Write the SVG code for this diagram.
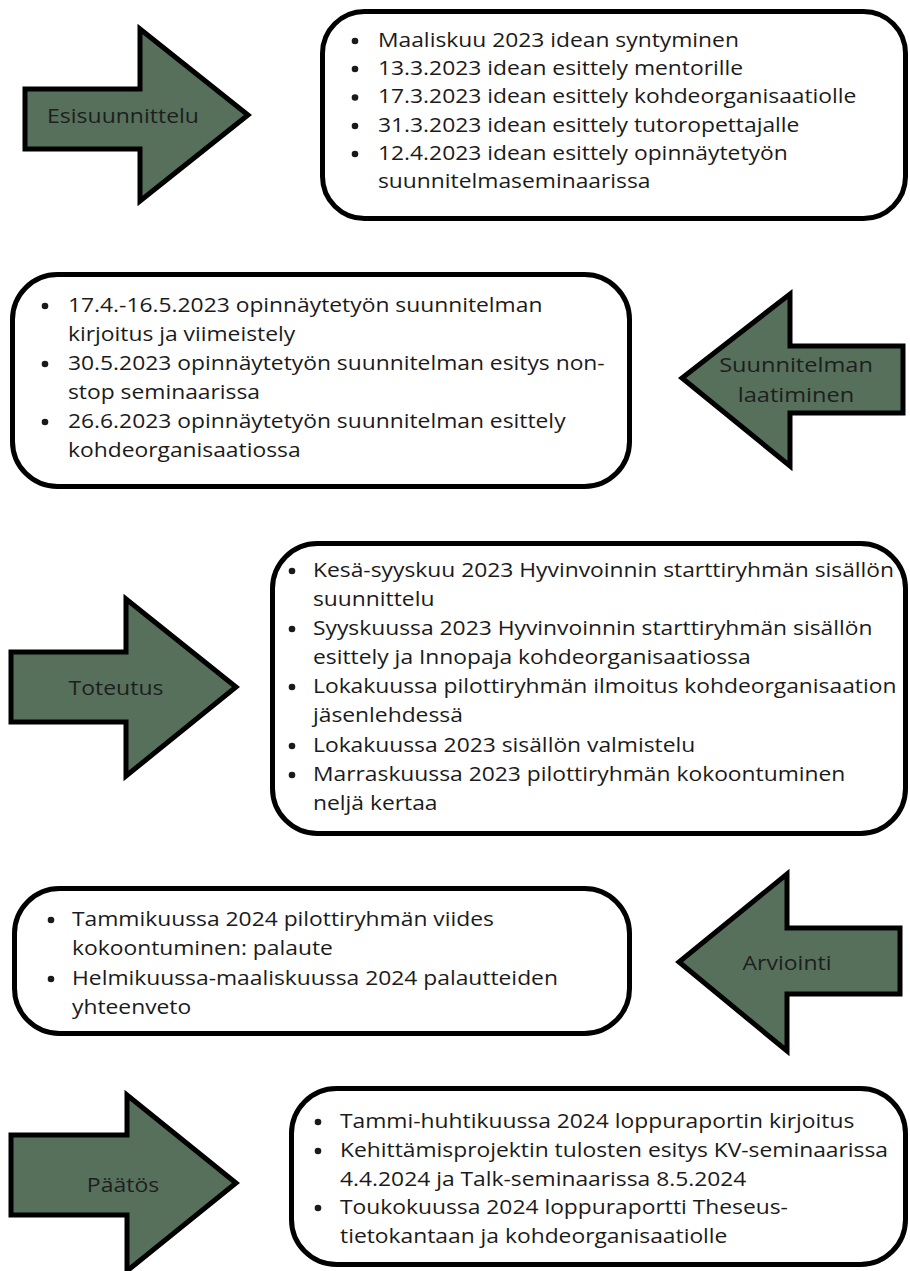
<svg xmlns="http://www.w3.org/2000/svg" width="910" height="1271" viewBox="0 0 910 1271">
<style>
.arrow{fill:#56705b;stroke:#000;stroke-width:5;stroke-linejoin:miter;stroke-miterlimit:10}
.box{fill:#fff;stroke:#000;stroke-width:5}
.dot{fill:#1a1a1a}
.lbl{font-family:"Open Sans","Noto Sans",sans-serif;font-size:20px;fill:#1e1e1e;text-anchor:middle}
.t{font-family:"Open Sans","Noto Sans",sans-serif;font-size:19.5px;fill:#1a1a1a}
</style>
<rect width="910" height="1271" fill="#fff"/>
<g id="arrows">
<g id="arrow-esisuunnittelu">
<polygon class="arrow" points="25,89 140,89 140,29 248,115 140,201 140,149 25,149"/>
<g transform="translate(123 0) scale(1.15 1)"><text class="lbl" x="0" y="123">Esisuunnittelu</text></g>
</g>
<g id="arrow-suunnitelman">
<polygon class="arrow" points="903,346 790,346 790,294 682,378 790,466 790,413 903,413"/>
<g transform="translate(796 0) scale(1.18 1)"><text class="lbl" x="0" y="372">Suunnitelman</text>
<text class="lbl" x="0" y="402">laatiminen</text></g>
</g>
<g id="arrow-toteutus">
<polygon class="arrow" points="11,652 126,652 126,599 236,687 126,776 126,722 11,722"/>
<g transform="translate(116 0) scale(1.15 1)"><text class="lbl" x="0" y="695">Toteutus</text></g>
</g>
<g id="arrow-arviointi">
<polygon class="arrow" points="900,928 787,928 787,874 679,962 787,1051 787,994 900,994"/>
<g transform="translate(787 0) scale(1.15 1)"><text class="lbl" x="0" y="970">Arviointi</text></g>
</g>
<g id="arrow-paatos">
<polygon class="arrow" points="11,1135 127,1135 127,1095 236,1183 127,1271 127,1215 11,1215"/>
<g transform="translate(123 0) scale(1.15 1)"><text class="lbl" x="0" y="1192">Päätös</text></g>
</g>
</g>
<g id="box1">
<rect class="box" x="322.5" y="11.5" width="583" height="207" rx="42"/>
<circle class="dot" cx="355" cy="41" r="3.3"/>
<circle class="dot" cx="355" cy="69" r="3.3"/>
<circle class="dot" cx="355" cy="97.5" r="3.3"/>
<circle class="dot" cx="355" cy="126" r="3.3"/>
<circle class="dot" cx="355" cy="154" r="3.3"/>
<g transform="translate(378 0) scale(1.17 1)">
<text class="t" x="0" y="47">Maaliskuu 2023 idean syntyminen</text>
<text class="t" x="0" y="75">13.3.2023 idean esittely mentorille</text>
<text class="t" x="0" y="103.5">17.3.2023 idean esittely kohdeorganisaatiolle</text>
<text class="t" x="0" y="132">31.3.2023 idean esittely tutoropettajalle</text>
<text class="t" x="0" y="160">12.4.2023 idean esittely opinnäytetyön</text>
<text class="t" x="0" y="188">suunnitelmaseminaarissa</text>
</g>
</g>
<g id="box2">
<rect class="box" x="12.5" y="274.5" width="617" height="212" rx="45"/>
<circle class="dot" cx="45" cy="306" r="3.3"/>
<circle class="dot" cx="45" cy="364" r="3.3"/>
<circle class="dot" cx="45" cy="422" r="3.3"/>
<g transform="translate(68 0) scale(1.17 1)">
<text class="t" x="0" y="312">17.4.-16.5.2023 opinnäytetyön suunnitelman</text>
<text class="t" x="0" y="341">kirjoitus ja viimeistely</text>
<text class="t" x="0" y="370">30.5.2023 opinnäytetyön suunnitelman esitys non-</text>
<text class="t" x="0" y="399">stop seminaarissa</text>
<text class="t" x="0" y="428">26.6.2023 opinnäytetyön suunnitelman esittely</text>
<text class="t" x="0" y="457">kohdeorganisaatiossa</text>
</g>
</g>
<g id="box3">
<rect class="box" x="272.5" y="543.5" width="633" height="290" rx="45"/>
<circle class="dot" cx="292" cy="571" r="3.3"/>
<circle class="dot" cx="292" cy="629" r="3.3"/>
<circle class="dot" cx="292" cy="687" r="3.3"/>
<circle class="dot" cx="292" cy="746" r="3.3"/>
<circle class="dot" cx="292" cy="775" r="3.3"/>
<g transform="translate(313 0) scale(1.17 1)">
<text class="t" x="0" y="577">Kesä-syyskuu 2023 Hyvinvoinnin starttiryhmän sisällön</text>
<text class="t" x="0" y="606">suunnittelu</text>
<text class="t" x="0" y="635">Syyskuussa 2023 Hyvinvoinnin starttiryhmän sisällön</text>
<text class="t" x="0" y="664">esittely ja Innopaja kohdeorganisaatiossa</text>
<text class="t" x="0" y="693">Lokakuussa pilottiryhmän ilmoitus kohdeorganisaation</text>
<text class="t" x="0" y="722">jäsenlehdessä</text>
<text class="t" x="0" y="752">Lokakuussa 2023 sisällön valmistelu</text>
<text class="t" x="0" y="781">Marraskuussa 2023 pilottiryhmän kokoontuminen</text>
<text class="t" x="0" y="810">neljä kertaa</text>
</g>
</g>
<g id="box4">
<rect class="box" x="14.5" y="888.5" width="615" height="145" rx="45"/>
<circle class="dot" cx="51" cy="920" r="3.3"/>
<circle class="dot" cx="51" cy="979" r="3.3"/>
<g transform="translate(72 0) scale(1.17 1)">
<text class="t" x="0" y="926">Tammikuussa 2024 pilottiryhmän viides</text>
<text class="t" x="0" y="955">kokoontuminen: palaute</text>
<text class="t" x="0" y="985">Helmikuussa-maaliskuussa 2024 palautteiden</text>
<text class="t" x="0" y="1014">yhteenveto</text>
</g>
</g>
<g id="box5">
<rect class="box" x="291.5" y="1088.5" width="614" height="176" rx="45"/>
<circle class="dot" cx="318" cy="1122" r="3.3"/>
<circle class="dot" cx="318" cy="1151" r="3.3"/>
<circle class="dot" cx="318" cy="1208" r="3.3"/>
<g transform="translate(340 0) scale(1.17 1)">
<text class="t" x="0" y="1128">Tammi-huhtikuussa 2024 loppuraportin kirjoitus</text>
<text class="t" x="0" y="1157">Kehittämisprojektin tulosten esitys KV-seminaarissa</text>
<text class="t" x="0" y="1186">4.4.2024 ja Talk-seminaarissa 8.5.2024</text>
<text class="t" x="0" y="1214">Toukokuussa 2024 loppuraportti Theseus-</text>
<text class="t" x="0" y="1243">tietokantaan ja kohdeorganisaatiolle</text>
</g>
</g>
</svg>
